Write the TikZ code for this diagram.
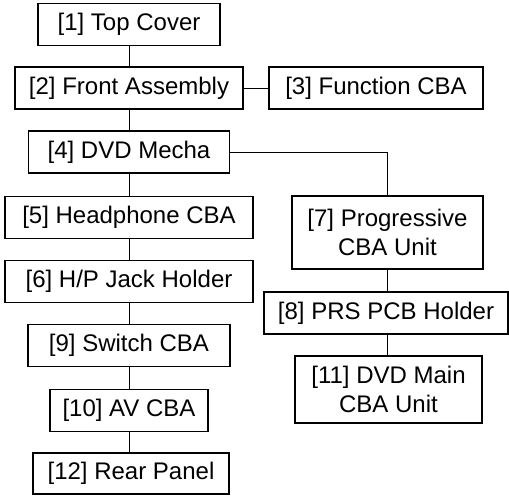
\documentclass[tikz,border=0pt]{standalone}
\usepackage{fontspec}
\setmainfont{Liberation Sans}
\usetikzlibrary{positioning}
\tikzset{
  part/.style={draw, line width=0.6pt, inner sep=0pt, align=center, minimum height=21pt},
  link/.style={line width=0.5pt}
}
\begin{document}
\begin{tikzpicture}[x=0.5pt, y=-0.5pt, font=\fontsize{12}{14.5}\selectfont]
  \useasboundingbox (0,0) rectangle (509,495);
  % left column
  \node[part, minimum width=91pt] (p1) at (129,24.5) {[1] Top Cover};
  \node[part, minimum width=114pt] (p2) at (129,88) {[2] Front Assembly};
  \node[part, minimum width=107pt] (p3) at (376,88) {[3] Function CBA};
  \node[part, minimum width=100.5pt] (p4) at (129,152) {[4] DVD Mecha};
  \node[part, minimum width=124pt] (p5) at (129,217.5) {[5] Headphone CBA};
  \node[part, minimum width=124pt] (p6) at (129,281.5) {[6] H/P Jack Holder};
  \node[part, minimum width=101pt] (p9) at (129,345.5) {[9] Switch CBA};
  \node[part, minimum width=79pt] (p10) at (129,410.5) {[10] AV CBA};
  \node[part, minimum width=98pt, minimum height=20.5pt] (p12) at (131,473.5) {[12] Rear Panel};
  % right column
  \node[part, minimum width=95.5pt, minimum height=36.5pt] (p7) at (387.5,232.5) {[7] Progressive\\CBA Unit};
  \node[part, minimum width=122pt] (p8) at (386,313) {[8] PRS PCB Holder};
  \node[part, minimum width=93.5pt, minimum height=33.5pt] (p11) at (388.5,389.5) {[11] DVD Main\\CBA Unit};
  % connectors
  \draw[link] (p1.south) -- (p2.north);
  \draw[link] (p2) -- (p3);
  \draw[link] (p2.south) -- (p4.north);
  \draw[link] (p4.south) -- (p5.north);
  \draw[link] (p5.south) -- (p6.north);
  \draw[link] (p6.south) -- (p9.north);
  \draw[link] (p9.south) -- (p10.north);
  \draw[link] (p10.south) -- (p12.north -| p10.south);
  \draw[link] (p4.east) -| (p7.north);
  \draw[link] (p7.south) -- (p8.north -| p7.south);
  \draw[link] (p8.south -| p7.south) -- (p11.north -| p7.south);
\end{tikzpicture}
\end{document}
